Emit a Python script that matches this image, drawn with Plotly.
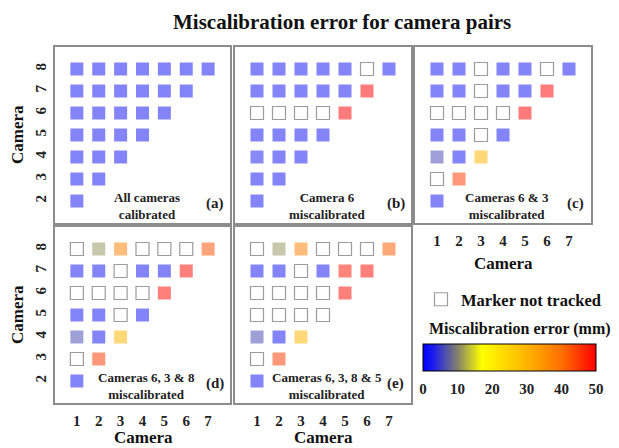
import plotly.graph_objects as go

# Miscalibration error (mm) for each camera pair (x camera, y camera).
# Each list holds rows for y-camera 2..8; row j has entries for x-camera 1..j-1.
# None marks a pair whose marker was not tracked.
cams_x = [1, 2, 3, 4, 5, 6, 7]
cams_y = [2, 3, 4, 5, 6, 7, 8]

err_a = [
    [2],
    [2, 2],
    [2, 2, 2],
    [2, 2, 2, 2],
    [2, 2, 2, 2, 2],
    [2, 2, 2, 2, 2, 2],
    [2, 2, 2, 2, 2, 2, 2],
]
err_b = [
    [2],
    [2, 2],
    [3, 2, 2],
    [2, 2, 2, 2],
    [None, None, None, None, 50],
    [2, 2, 2, 2, 2, 50],
    [2, 2, 2, 2, 2, None, 2],
]
err_c = [
    [2],
    [None, 45],
    [6, 2, 30],
    [2, 2, None, 2],
    [None, None, None, None, 50],
    [2, 2, None, 2, 2, 50],
    [2, 2, None, 2, 2, None, 2],
]
err_d = [
    [2],
    [None, 45],
    [6, 2, 30],
    [2, 2, None, 2],
    [None, None, None, None, 49],
    [2, 2, None, 2, 2, 49],
    [None, 11, 38, None, None, None, 43],
]
err_e = [
    [2],
    [None, 45],
    [6, 2, 30],
    [None, None, None, None],
    [None, None, None, None, 49],
    [2, 2, None, 2, 48, 49],
    [None, 11, 38, None, None, None, 42],
]

panel_errs = [err_a, err_b, err_c, err_d, err_e]
panel_tags = ["(a)", "(b)", "(c)", "(d)", "(e)"]
panel_notes = [
    "All cameras<br>calibrated",
    "Camera 6<br>miscalibrated",
    "Cameras 6 & 3<br>miscalibrated",
    "Cameras 6, 3 & 8<br>miscalibrated",
    "Cameras 6, 3, 8 & 5<br>miscalibrated",
]
err_ticks = [0, 10, 20, 30, 40, 50]

# ---- styling / layout -------------------------------------------------
W, H = 619, 448
FONT = "Liberation Serif"
BOX = "#8c8c8c"
colorscale = [
    [0.00, "#0000ff"],
    [0.06, "#1c1cee"],
    [0.20, "#82826c"],
    [0.34, "#ffff00"],
    [0.60, "#ffb400"],
    [0.80, "#ff7000"],
    [1.00, "#ff0000"],
]

# panel boxes in pixels: (left, right, top, bottom)
boxes = [
    (55, 230, 47, 223),
    (235, 411, 47, 223),
    (415, 591, 47, 223),
    (55, 230, 227, 403),
    (235, 411, 227, 403),
]
show_x = [False, False, True, True, True]
show_y = [True, False, False, True, False]

fig = go.Figure()
layout = {}

for k, (errs, box) in enumerate(zip(panel_errs, boxes)):
    n = "" if k == 0 else str(k + 1)
    xa, ya = "x" + n, "y" + n
    fx, fy, fv, ox, oy = [], [], [], [], []
    for row, yc in zip(errs, cams_y):
        for v, xc in zip(row, cams_x):
            if v is None:
                ox.append(xc)
                oy.append(yc)
            else:
                fx.append(xc)
                fy.append(yc)
                fv.append(v)
    fig.add_trace(go.Scatter(
        x=fx, y=fy, mode="markers", xaxis=xa, yaxis=ya, showlegend=False,
        marker=dict(symbol="square", size=13, color=fv, colorscale=colorscale,
                    cmin=0, cmax=50, opacity=0.52, line=dict(width=0),
                    showscale=(k == 0),
                    colorbar=dict(
                        orientation="h", x=509.5 / W, xanchor="center",
                        y=1 - 344 / H, yanchor="top", len=173, lenmode="pixels",
                        thickness=27, thicknessmode="pixels", xpad=0, ypad=0,
                        outlinewidth=1, outlinecolor="#000000",
                        tickvals=err_ticks, ticks="outside", ticklen=5,
                        tickcolor="rgba(0,0,0,0)",
                        tickfont=dict(family=FONT, size=15, color="#222", weight="bold"),
                    )),
    ))
    fig.add_trace(go.Scatter(
        x=ox, y=oy, mode="markers", xaxis=xa, yaxis=ya,
        name="Marker not tracked", showlegend=(k == 1),
        marker=dict(symbol="square-open", size=13, color="#9c9c9c",
                    line=dict(width=1.2)),
    ))

    l, r, t, b = box
    common = dict(showgrid=False, zeroline=False, showline=True, mirror=True,
                  linecolor=BOX, linewidth=1.5, ticks="",
                  tickfont=dict(family=FONT, size=15, color="#222", weight="bold"))
    layout["xaxis" + n] = dict(
        common, domain=[l / W, r / W], range=[0, 8], tickvals=cams_x,
        showticklabels=show_x[k], anchor=ya, ticklabelstandoff=3)
    layout["yaxis" + n] = dict(
        common, domain=[1 - b / H, 1 - t / H], range=[1, 9], tickvals=cams_y,
        showticklabels=show_y[k], anchor=xa, tickangle=-90, ticklabelstandoff=1)

annotations = []
for k in range(5):
    n = "" if k == 0 else str(k + 1)
    annotations.append(dict(
        x=4.2, y=1.78, xref="x" + n, yref="y" + n, text=panel_notes[k],
        showarrow=False, align="center", xanchor="center", yanchor="middle",
        font=dict(family=FONT, size=13, color="#222", weight="bold")))
    annotations.append(dict(
        x=7.3, y=1.88, xref="x" + n, yref="y" + n, text=panel_tags[k],
        showarrow=False, xanchor="center", yanchor="middle",
        font=dict(family=FONT, size=15, color="#222", weight="bold")))

txt = dict(family=FONT, color="#111", weight="bold")


def paper_text(px, py, text, size, angle=0):
    return dict(x=px / W, y=1 - py / H, xref="paper", yref="paper",
                xanchor="center", yanchor="middle", showarrow=False,
                text=text, textangle=angle, font=dict(txt, size=size))


annotations += [
    paper_text(342, 22, "Miscalibration error for camera pairs", 21),
    paper_text(17, 135, "Camera", 17, -90),
    paper_text(17, 315, "Camera", 17, -90),
    paper_text(503, 263, "Camera", 17),
    paper_text(143, 437, "Camera", 17),
    paper_text(323, 437, "Camera", 17),
    paper_text(520, 329, "Miscalibration error (mm)", 16),
]

fig.update_layout(
    width=W, height=H, margin=dict(l=0, r=0, t=0, b=0),
    paper_bgcolor="white", plot_bgcolor="white",
    annotations=annotations,
    showlegend=True,
    legend=dict(x=421 / W, y=1 - 282 / H, xanchor="left", yanchor="top",
                bgcolor="rgba(0,0,0,0)",
                font=dict(family=FONT, size=16.5, color="#111", weight="bold")),
    **layout,
)

fig.write_html("out.html")
